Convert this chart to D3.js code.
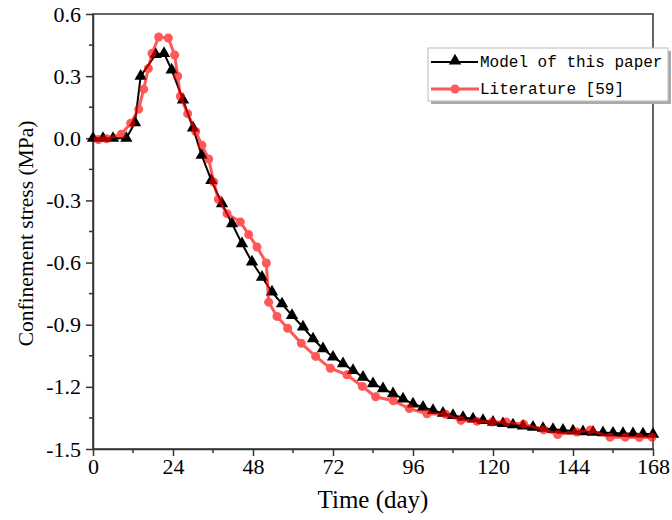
<!DOCTYPE html>
<html><head><meta charset="utf-8">
<script src="https://cdn.jsdelivr.net/npm/d3@7"></script>
<style>body{margin:0;background:#fff}svg{display:block}</style>
</head><body>
<script>
const xTicks = [0, 24, 48, 72, 96, 120, 144, 168];
const yTicks = [0.6, 0.3, 0.0, -0.3, -0.6, -0.9, -1.2, -1.5];
const seriesNames = ["Model of this paper", "Literature [59]"];
const modelDays = [0,3,6,10,12.6,14.3,18.8,21.3,23.6,27,30,32.6,35.5,38.7,41.7,44.7,47.7,50.7,53.7,56.7,59.7,63,66,69,72,75,78,81,84,87,90,93,96,99,102,105,108,111,114,117,120,123,126,129,132,135,138,141,144,147,150,153,156,159,162,165,168];
const modelValues = [0,0,0,0,0.075,0.30,0.405,0.41,0.33,0.185,0.05,-0.082,-0.203,-0.316,-0.412,-0.509,-0.597,-0.670,-0.742,-0.799,-0.855,-0.911,-0.968,-1.016,-1.056,-1.088,-1.121,-1.153,-1.185,-1.209,-1.233,-1.258,-1.282,-1.298,-1.314,-1.327,-1.338,-1.347,-1.355,-1.362,-1.370,-1.377,-1.383,-1.389,-1.395,-1.400,-1.405,-1.409,-1.413,-1.416,-1.419,-1.421,-1.423,-1.425,-1.426,-1.427,-1.428];
const litDays = [1.6,4.1,8.5,11.3,13.7,15.2,16.6,17.7,19.7,22.6,24.5,25.4,26.2,28.4,30.8,32.7,34.7,36.2,37.6,40.2,44.2,46.7,49.2,52,52.7,55.2,58.4,62.5,66.8,71.2,76.2,80.8,84.8,90.1,94.9,100.2,105.8,110.4,115.2,119.7,124,129.2,135.2,139.4,145.1,149.2,155.1,159.7,163.9,167.7];
const litValues = [-0.006,-0.002,0.02,0.073,0.141,0.237,0.337,0.41,0.489,0.484,0.402,0.30,0.203,0.119,0.033,-0.034,-0.10,-0.211,-0.295,-0.364,-0.404,-0.465,-0.525,-0.602,-0.791,-0.86,-0.917,-0.99,-1.053,-1.11,-1.142,-1.198,-1.248,-1.267,-1.305,-1.33,-1.332,-1.362,-1.366,-1.37,-1.37,-1.38,-1.407,-1.43,-1.418,-1.408,-1.443,-1.443,-1.444,-1.443];

const W = 672, H = 520;
const L = 93, R = 653, T = 14, B = 449;
const svg = d3.select("body").append("svg").attr("width", W).attr("height", H);
const x = d3.scaleLinear().domain([0, 168]).range([L, R]);
const y = d3.scaleLinear().domain([-1.5, 0.6]).range([B, T]);
const axisColor = "#333";
const serif = "'Liberation Serif','Times New Roman',serif";

// frame
svg.append("rect").attr("x", L).attr("y", T).attr("width", R - L).attr("height", B - T)
  .attr("fill", "none").attr("stroke", axisColor).attr("stroke-width", 1.5);

// minor ticks
const xMinor = d3.range(12, 168, 24);
const yMinor = d3.range(-1.35, 0.6, 0.3);
svg.append("g").selectAll("line").data(xMinor).join("line")
  .attr("x1", d => x(d)).attr("x2", d => x(d)).attr("y1", B).attr("y2", B + 4)
  .attr("stroke", axisColor).attr("stroke-width", 1.5);
svg.append("g").selectAll("line").data(yMinor).join("line")
  .attr("y1", d => y(d)).attr("y2", d => y(d)).attr("x1", L).attr("x2", L - 4)
  .attr("stroke", axisColor).attr("stroke-width", 1.5);

// axes
const xAxis = svg.append("g").attr("transform", `translate(0,${B})`)
  .call(d3.axisBottom(x).tickValues(xTicks).tickFormat(d3.format("d")).tickSizeInner(7).tickSizeOuter(0).tickPadding(2));
const yAxis = svg.append("g").attr("transform", `translate(${L},0)`)
  .call(d3.axisLeft(y).tickValues(yTicks).tickFormat(d3.format(".1f")).tickSizeInner(7).tickSizeOuter(0).tickPadding(5));
[xAxis, yAxis].forEach(g => {
  g.select(".domain").attr("stroke", axisColor).attr("stroke-width", 1.5);
  g.selectAll(".tick line").attr("stroke", axisColor).attr("stroke-width", 1.5);
  g.selectAll(".tick text").attr("font-family", serif).attr("font-size", 22).attr("fill", "#000");
});
yAxis.selectAll(".tick text").text(d => d3.format(".1f")(d).replace("−", "-"));

// titles
svg.append("text").attr("x", 373).attr("y", 508).attr("text-anchor", "middle")
  .attr("font-family", serif).attr("font-size", 25).text("Time (day)");
svg.append("text").attr("transform", `translate(33,${(T + B) / 2 + 2}) rotate(-90)`).attr("text-anchor", "middle")
  .attr("font-family", serif).attr("font-size", 21.5).text("Confinement stress (MPa)");

// data
const model = modelDays.map((d, i) => [d, modelValues[i]]);
const lit = litDays.map((d, i) => [d, litValues[i]]);
const line = d3.line().x(d => x(d[0])).y(d => y(d[1]));
const tri = d3.symbol().type(d3.symbolTriangle).size(66);

const gm = svg.append("g");
gm.append("path").datum(model).attr("d", line).attr("fill", "none").attr("stroke", "#000").attr("stroke-width", 2);
gm.selectAll("path.m").data(model).join("path").attr("class", "m")
  .attr("transform", d => `translate(${x(d[0])},${y(d[1])})`).attr("d", tri).attr("fill", "#000");

const gl = svg.append("g").attr("opacity", 0.65);
gl.append("path").datum(lit).attr("d", line).attr("fill", "none").attr("stroke", "#ff0000").attr("stroke-width", 3);
gl.selectAll("circle").data(lit).join("circle")
  .attr("cx", d => x(d[0])).attr("cy", d => y(d[1])).attr("r", 4.5).attr("fill", "#ff0000");

// legend
const lx = 428, ly = 48, lw = 240, lh = 53;
svg.append("rect").attr("x", lx + 3).attr("y", ly + 3).attr("width", lw).attr("height", lh).attr("fill", "#aaa");
svg.append("rect").attr("x", lx).attr("y", ly).attr("width", lw).attr("height", lh).attr("fill", "#fff").attr("stroke", "#bbb").attr("stroke-width", 1);
const mono = "'Liberation Mono','DejaVu Sans Mono',monospace";
// model entry
svg.append("line").attr("x1", lx + 3).attr("x2", lx + 50).attr("y1", ly + 14).attr("y2", ly + 14).attr("stroke", "#000").attr("stroke-width", 2);
svg.append("path").attr("transform", `translate(${lx + 27},${ly + 13})`).attr("d", tri).attr("fill", "#000");
svg.append("text").attr("x", lx + 52).attr("y", ly + 19).attr("font-family", mono).attr("font-size", 16).text(seriesNames[0]);
// literature entry
const gle = svg.append("g").attr("opacity", 0.65);
gle.append("line").attr("x1", lx + 3).attr("x2", lx + 51).attr("y1", ly + 41).attr("y2", ly + 41).attr("stroke", "#ff0000").attr("stroke-width", 3);
gle.append("circle").attr("cx", lx + 27).attr("cy", ly + 41).attr("r", 4.5).attr("fill", "#ff0000");
svg.append("text").attr("x", lx + 52).attr("y", ly + 46).attr("font-family", mono).attr("font-size", 16).text(seriesNames[1]);
</script>
</body></html>
